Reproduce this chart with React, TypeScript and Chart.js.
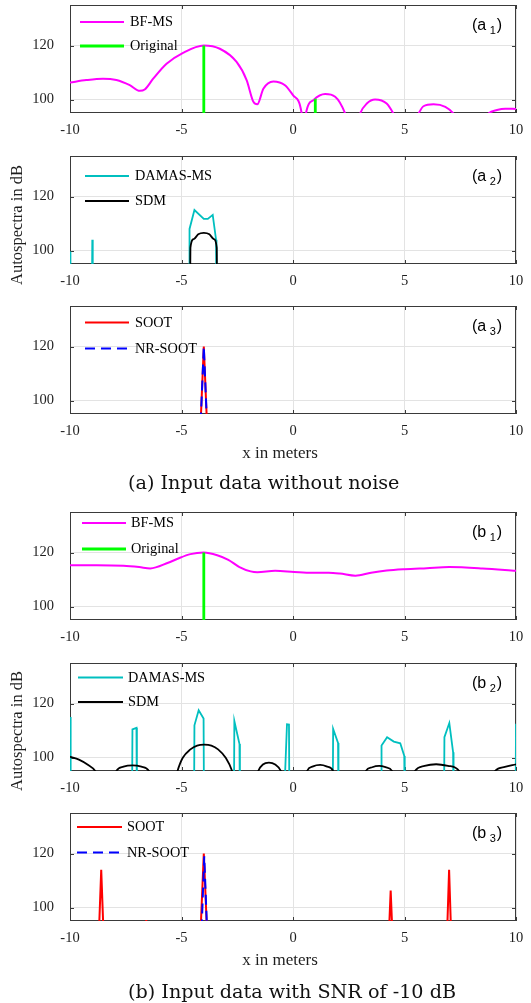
import React, { useEffect, useRef } from "react";
import { Chart, registerables } from "chart.js";

Chart.register(...registerables);

// ---------------- data ----------------
const xTicks = [-10, -5, 0, 5, 10];
const yTicks = [100, 120];
const X_MIN = -10;
const X_MAX = 10;
const Y_MIN = 95;
const Y_MAX = 135;

// (a1) BF-MS and Original, no noise
const a1BfX = [-10, -9.27, -8.52, -7.92, -7.32, -6.87, -6.65, -6.27, -5.67, -4.93, -4.0, -3.28, -2.53, -2.08, -1.78, -1.6, -1.33, -0.88, -0.36, 0.0, 0.39, 0.48, 0.58, 0.91, 1.44, 1.89, 2.34, 2.7, 3.01, 3.31, 3.68, 4.2, 4.5, 5.05, 5.63, 5.85, 6.3, 6.83, 7.2, 8.0, 8.77, 9.15, 9.52, 10];
const a1BfY = [106.3, 107.2, 107.7, 107.2, 105.3, 103.2, 103.7, 107.7, 113.25, 117.3, 120, 118.8, 113.9, 107.2, 99.2, 98.2, 104.0, 106.7, 105.3, 101.6, 94.8, 85, 94.8, 99.75, 102, 101, 94.8, 85, 94.8, 98.5, 100, 98.5, 94.8, 85, 94.8, 97.5, 98.2, 97.3, 94.8, 85, 94.8, 96.1, 96.6, 96.5];
const a1OrigX = [-4, -4, -1.5, 1, 1];
const a1OrigY = [80, 120, null, 80, 100.3];

// (a2) DAMAS-MS and SDM, no noise
const a2DamasX = [-10, -9.98, -9.02, -9.0, -8.98, -4.66, -4.64, -4.42, -4.0, -3.82, -3.6, -3.45, -3.43];
const a2DamasY = [99.6, 80, 80, 104, 80, 80, 108, 115, 111.7, 111.7, 113.2, 104, 80];
const a2SdmX = [-4.62, -4.6, -4.45, -4.25, -4.0, -3.75, -3.55, -3.42, -3.4];
const a2SdmY = [80, 101, 104.2, 106, 106.5, 106, 104.2, 101, 80];

// (a3) SOOT and NR-SOOT, no noise
const a3SootX = [-4.2, -4.0, -3.8];
const a3SootY = [80, 120, 80];
const a3NrX = [-4.2, -4.0, -3.8];
const a3NrY = [80, 120, 80];

// (b1) BF-MS and Original, SNR -10 dB
const b1BfX = [-10, -8.8, -7.6, -6.9, -6.4, -5.6, -5.2, -4.6, -4.0, -3.4, -2.9, -2.4, -1.9, -1.6, -0.8, 0.05, 0.85, 1.6, 2.1, 2.8, 3.5, 4.2, 5.0, 6.0, 7.01, 8.5, 10];
const b1BfY = [115.3, 115.3, 115.1, 114.6, 114.1, 116.2, 117.6, 119.4, 120, 119.0, 117.3, 114.6, 113.0, 112.7, 113.2, 112.8, 112.5, 112.5, 112.2, 111.4, 112.5, 113.3, 113.8, 114.2, 114.6, 114.1, 113.2];
const b1OrigX = [-4, -4];
const b1OrigY = [80, 120];

// (b2) DAMAS-MS and SDM, SNR -10 dB
const b2DamasX = [-10, -9.97, -7.22, -7.2, -7.02, -7.0, -4.44, -4.42, -4.23, -4.01, -3.99, -2.65, -2.63, -2.4, -2.38, -0.42, -0.27, -0.18, -0.16, 1.78, 1.8, 2.02, 2.04, 3.95, 3.97, 4.22, 4.52, 4.81, 4.99, 5.01, 6.77, 6.79, 7.01, 7.18, 7.2, 9.98, 10];
const b2DamasY = [115, 80, 80, 110.4, 111, 80, 80, 111.9, 117.5, 114.4, 80, 80, 113.5, 105, 80, 80, 112.3, 112.2, 80, 80, 110.6, 105.4, 80, 80, 104.4, 107.5, 105.9, 105.25, 100.6, 80, 80, 107.5, 112.75, 101.9, 80, 80, 112.5];
const b2SdmX = [-10, -9.6, -9.2, -8.87, -8.6, -8.2, -7.92, -7.6, -7.19, -6.8, -6.46, -6.2, -5.5, -5.18, -4.95, -4.6, -4.3, -3.98, -3.66, -3.36, -3.01, -2.73, -2.4, -1.8, -1.56, -1.35, -1.08, -0.8, -0.54, -0.3, 0.4, 0.63, 0.9, 1.22, 1.5, 1.8, 2.05, 3.0, 3.27, 3.55, 3.86, 4.15, 4.44, 4.7, 5.2, 5.47, 5.9, 6.42, 6.95, 7.45, 7.7, 8.8, 9.06, 9.5, 10];
const b2SdmY = [100.3, 99.2, 97.3, 95, 90, 88, 95, 96.6, 97.1, 96.6, 95, 88, 85, 95, 99.8, 103, 104.4, 104.75, 104.4, 103, 99.8, 95, 85, 88, 95, 97.4, 98.1, 97.4, 95, 88, 88, 95, 96.7, 97.25, 96.7, 95, 88, 88, 95, 96.4, 96.9, 96.4, 95, 88, 88, 95, 96.9, 97.5, 96.9, 95, 88, 88, 95, 96.5, 97.5];

// (b3) SOOT and NR-SOOT, SNR -10 dB
const b3SootX = [-8.75, -8.6, -8.45, -6.62, -6.58, -6.54, -4.2, -4.0, -3.8, 4.25, 4.38, 4.51, 6.87, 7.0, 7.13];
const b3SootY = [80, 114, 80, 80, 95.4, 80, 80, 120, 80, 80, 106.3, 80, 80, 114, 80];
const b3NrX = [-4.15, -3.98, -3.8];
const b3NrY = [80, 119, 80];

// ---------------- styling ----------------
const MAGENTA = "#ff00ff";
const GREEN = "#00ff00";
const CYAN = "#00bfbf";
const BLACK = "#000000";
const RED = "#ff0000";
const BLUE = "#0000ff";
const GRID = "#e3e3e3";
const BOX = "#3a3a3a";
const TEXT = "#1e1e1e";
const SERIF = '"Liberation Serif", "Times New Roman", serif';
const SANS = '"Liberation Sans", Arial, sans-serif';

const W = 531;
const PAD_T = 5;
const PLOT_H = 108;
const XAX_H = 30;
const CANVAS_H = PAD_T + PLOT_H + XAX_H;

type Series = {
  label: string;
  xs: number[];
  ys: (number | null)[];
  color: string;
  width: number;
  dash?: number[];
  smooth?: boolean;
};

type PanelCfg = {
  top: number;
  series: Series[];
  legendYs: number[];
  legendX: [number, number, number];
  tag: string;
  sub: string;
};

const panels: PanelCfg[] = [
  {
    top: 5,
    tag: "(a",
    sub: "1",
    legendYs: [17, 41],
    legendX: [80, 124, 130],
    series: [
      { label: "BF-MS", xs: a1BfX, ys: a1BfY, color: MAGENTA, width: 2, smooth: true },
      { label: "Original", xs: a1OrigX, ys: a1OrigY, color: GREEN, width: 2.8 },
    ],
  },
  {
    top: 156,
    tag: "(a",
    sub: "2",
    legendYs: [20, 45],
    legendX: [85, 129, 135],
    series: [
      { label: "DAMAS-MS", xs: a2DamasX, ys: a2DamasY, color: CYAN, width: 1.8 },
      { label: "SDM", xs: a2SdmX, ys: a2SdmY, color: BLACK, width: 1.8, smooth: true },
    ],
  },
  {
    top: 306,
    tag: "(a",
    sub: "3",
    legendYs: [16.5, 42.5],
    legendX: [85, 129, 135],
    series: [
      { label: "SOOT", xs: a3SootX, ys: a3SootY, color: RED, width: 2 },
      { label: "NR-SOOT", xs: a3NrX, ys: a3NrY, color: BLUE, width: 2, dash: [10, 6] },
    ],
  },
  {
    top: 512,
    tag: "(b",
    sub: "1",
    legendYs: [11, 37],
    legendX: [82, 126, 131],
    series: [
      { label: "BF-MS", xs: b1BfX, ys: b1BfY, color: MAGENTA, width: 2, smooth: true },
      { label: "Original", xs: b1OrigX, ys: b1OrigY, color: GREEN, width: 2.8 },
    ],
  },
  {
    top: 663,
    tag: "(b",
    sub: "2",
    legendYs: [14.5, 39],
    legendX: [78, 123, 128],
    series: [
      { label: "DAMAS-MS", xs: b2DamasX, ys: b2DamasY, color: CYAN, width: 1.8 },
      { label: "SDM", xs: b2SdmX, ys: b2SdmY, color: BLACK, width: 1.8, smooth: true },
    ],
  },
  {
    top: 813,
    tag: "(b",
    sub: "3",
    legendYs: [14, 39.5],
    legendX: [77, 122, 127],
    series: [
      { label: "SOOT", xs: b3SootX, ys: b3SootY, color: RED, width: 2 },
      { label: "NR-SOOT", xs: b3NrX, ys: b3NrY, color: BLUE, width: 2, dash: [10, 6] },
    ],
  },
];

function makeDecor(cfg: PanelCfg) {
  return {
    id: "decor",
    beforeDatasetsDraw(chart: any) {
      const { ctx, chartArea: a, scales } = chart;
      ctx.save();
      // axes box (drawn under the data, as in the original figure)
      ctx.strokeStyle = BOX;
      ctx.lineWidth = 1;
      ctx.setLineDash([]);
      const L = Math.round(a.left);
      const T = Math.round(a.top);
      const R = Math.round(a.right);
      const B = Math.round(a.bottom);
      ctx.strokeRect(L + 0.5, T + 0.5, R - L - 1, B - T - 1);
      // inward tick marks
      ctx.beginPath();
      for (const t of xTicks) {
        const px = Math.round(scales.x.getPixelForValue(t)) + 0.5;
        ctx.moveTo(px, B);
        ctx.lineTo(px, B - 4);
        ctx.moveTo(px, T);
        ctx.lineTo(px, T + 4);
      }
      for (const t of yTicks) {
        const py = Math.round(scales.y.getPixelForValue(t)) + 0.5;
        ctx.moveTo(L, py);
        ctx.lineTo(L + 4, py);
        ctx.moveTo(R, py);
        ctx.lineTo(R - 4, py);
      }
      ctx.stroke();
      ctx.restore();
    },
    afterDatasetsDraw(chart: any) {
      const { ctx, chartArea: a } = chart;
      ctx.save();
      // legend
      const [x0, x1, tx] = cfg.legendX;
      cfg.series.forEach((s, i) => {
        const y = a.top + cfg.legendYs[i];
        ctx.strokeStyle = s.color;
        ctx.lineWidth = s.width;
        ctx.setLineDash(s.dash || []);
        ctx.beginPath();
        ctx.moveTo(x0, y);
        ctx.lineTo(x1, y);
        ctx.stroke();
        ctx.setLineDash([]);
        ctx.fillStyle = "#000";
        ctx.font = `14.3px ${SERIF}`;
        ctx.textBaseline = "middle";
        ctx.textAlign = "left";
        ctx.fillText(s.label, tx, y + 0.5);
      });

      // panel tag, e.g. (a 1)
      ctx.fillStyle = "#000";
      ctx.textBaseline = "alphabetic";
      ctx.textAlign = "left";
      const baseY = a.top + 25;
      let x = a.right - 44;
      ctx.font = `16px ${SANS}`;
      ctx.fillText(cfg.tag, x, baseY);
      x += ctx.measureText(cfg.tag + " ").width - 1;
      ctx.font = `11px ${SANS}`;
      ctx.fillText(cfg.sub, x, baseY + 4);
      x += ctx.measureText(cfg.sub).width + 1;
      ctx.font = `16px ${SANS}`;
      ctx.fillText(")", x, baseY);
      ctx.restore();
    },
  };
}

function Panel({ cfg }: { cfg: PanelCfg }) {
  const ref = useRef<HTMLCanvasElement>(null);
  useEffect(() => {
    if (!ref.current) return;
    const datasets = cfg.series.map((s, i) => ({
      label: s.label,
      data: s.xs.map((x, k) => ({ x, y: s.ys[k] })),
      borderColor: s.color,
      backgroundColor: s.color,
      borderWidth: s.width,
      borderDash: s.dash || [],
      pointRadius: 0,
      fill: false,
      tension: 0,
      cubicInterpolationMode: s.smooth ? "monotone" : "default",
      spanGaps: false,
      order: -i,
    }));
    const chart = new Chart(ref.current, {
      type: "line",
      data: { datasets } as any,
      options: {
        animation: false,
        responsive: false,
        maintainAspectRatio: false,
        events: [],
        layout: { autoPadding: false, padding: { left: 0, right: W - 516, top: PAD_T, bottom: 0 } },
        elements: {
          point: { radius: 0 },
          line: { capBezierPoints: false, borderCapStyle: "butt", borderJoinStyle: "miter" },
        },
        plugins: {
          legend: { display: false },
          tooltip: { enabled: false },
          title: { display: false },
        },
        scales: {
          x: {
            type: "linear",
            min: X_MIN,
            max: X_MAX,
            afterBuildTicks: (s: any) => {
              s.ticks = xTicks.map((v) => ({ value: v }));
            },
            afterFit: (s: any) => {
              s.height = XAX_H;
              s.paddingLeft = 0;
              s.paddingRight = 0;
            },
            ticks: {
              autoSkip: false,
              maxRotation: 0,
              padding: 8,
              color: TEXT,
              font: { family: SERIF, size: 14.5 },
            },
            grid: { color: GRID, lineWidth: 1, drawTicks: false },
            border: { display: false },
          },
          y: {
            type: "linear",
            min: Y_MIN,
            max: Y_MAX,
            afterBuildTicks: (s: any) => {
              s.ticks = yTicks.map((v) => ({ value: v }));
            },
            afterFit: (s: any) => {
              s.width = 70;
              s.paddingTop = 0;
              s.paddingBottom = 0;
            },
            ticks: {
              padding: 16,
              color: TEXT,
              font: { family: SERIF, size: 14.5 },
            },
            grid: { color: GRID, lineWidth: 1, drawTicks: false },
            border: { display: false },
          },
        },
      } as any,
      plugins: [makeDecor(cfg)],
    });
    return () => chart.destroy();
  }, [cfg]);
  return (
    <canvas
      ref={ref}
      width={W}
      height={CANVAS_H}
      style={{ position: "absolute", left: 0, top: cfg.top - PAD_T, width: W, height: CANVAS_H, display: "block" }}
    />
  );
}

const yLabelStyle = (cy: number): React.CSSProperties => ({
  position: "absolute",
  left: 17,
  top: cy,
  transform: "translate(-50%, -50%) rotate(-90deg)",
  whiteSpace: "nowrap",
  fontFamily: SERIF,
  fontSize: 16.5,
  lineHeight: 1,
  color: TEXT,
});

const xLabelStyle = (cy: number): React.CSSProperties => ({
  position: "absolute",
  left: 280,
  top: cy,
  transform: "translate(-50%, -50%)",
  whiteSpace: "nowrap",
  fontFamily: SERIF,
  fontSize: 17,
  lineHeight: 1,
  color: TEXT,
});

const captionStyle = (cy: number): React.CSSProperties => ({
  position: "absolute",
  left: 128,
  top: cy,
  transform: "translateY(-50%)",
  whiteSpace: "nowrap",
  fontFamily: '"DejaVu Serif", serif',
  fontSize: 19.2,
  lineHeight: 1,
  color: "#111",
});

export default function App() {
  return (
    <div style={{ position: "absolute", left: 0, top: 0, width: W, height: 1003, background: "#fff", overflow: "hidden" }}>
      {panels.map((p, i) => (
        <Panel key={i} cfg={p} />
      ))}
      <div style={yLabelStyle(225)}>Autospectra in dB</div>
      <div style={yLabelStyle(731)}>Autospectra in dB</div>
      <div style={xLabelStyle(452)}>x in meters</div>
      <div style={xLabelStyle(959)}>x in meters</div>
      <div style={captionStyle(483)}>(a) Input data without noise</div>
      <div style={captionStyle(992)}>(b) Input data with SNR of -10 dB</div>
    </div>
  );
}
